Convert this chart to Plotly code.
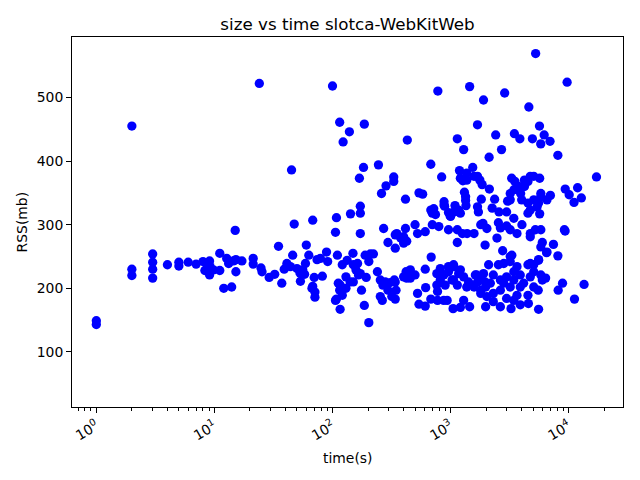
import plotly.graph_objects as go

# time (s), RSS (mb)
time_s = [
    1, 1, 2, 2, 2, 3, 3, 3, 3, 4, 5, 5, 6, 7, 8, 8.3, 8.8, 9.1, 9.2, 9.1, 9.8, 11.1, 11.1, 12, 14,
    12.7, 13.2, 14.5, 15.2, 15.2, 17.1, 15, 21.3, 21.3, 24.8, 25.3, 29.1, 32.4, 34.9, 37.2, 39, 41.1,
    44, 46, 47.4, 50, 53, 53.5, 56, 59, 60, 63, 58, 68, 68, 71, 71, 70, 74, 82, 89, 91, 24, 45, 100,
    5250, 9700, 780, 1450, 1900, 2870, 4600, 115, 139, 186, 123, 430, 1690, 1140, 1290, 2410, 2120,
    2700, 3470, 3860, 4930, 5660, 5800, 6200, 6950, 8100, 17200, 108, 142, 172, 172, 169, 183, 245,
    260, 284, 330, 330, 415, 540, 580, 680, 840, 680, 720, 880, 880, 960, 990, 1090, 1070, 1190, 1270,
    1210, 1310, 1340, 1350, 1540, 1580, 1690, 1770, 1850, 2130, 1820, 1690, 1720, 2360, 2250, 2570,
    2980, 3040, 3200, 3290, 3500, 3440, 3770, 3920, 4000, 4220, 4520, 4730, 5060, 5680, 4520, 4730,
    5060, 5400, 5680, 5810, 6550, 7000, 5810, 9350, 10100, 11100, 11900, 12800, 9200, 106, 172, 110,
    67, 121, 133, 149, 150, 158, 166, 130, 141, 189, 209, 222, 203, 193, 176, 112, 115, 108, 121, 130,
    116, 186, 203, 271, 295, 340, 350, 378, 415, 400, 340, 500, 525, 610, 700, 795, 240, 254, 280, 308,
    334, 345, 318, 254, 264, 340, 295, 420, 456, 500, 610, 685, 425, 525, 615, 775, 540, 610, 680, 775,
    875, 935, 1050, 1210, 1450, 1290, 765, 818, 875, 960, 1060, 1060, 1170, 1290, 1420, 1580, 1800,
    1620, 1690, 1900, 1140, 1260, 1380, 1580, 1800, 1880, 2030, 1960, 2470, 2760, 2540, 2980, 3200,
    3650, 4020, 3430, 4730, 5220, 5810, 5980, 5810, 6550, 7430, 8100, 9330, 5560, 5060, 4730, 1660,
    1800, 1960, 2100, 2300, 2540, 2640, 2980, 3430, 3890, 4520, 4730, 5060, 5810, 6380, 1980, 1980,
    2300, 2640, 3250, 3890, 4560, 5560, 5520, 2640, 3200, 2300, 2980, 3650, 4520, 5060, 2030, 3430,
    8150, 8870, 11200, 13500, 3430, 3890, 1800, 2820, 3200, 3300, 3650, 4150, 2820, 2170, 5560, 5980,
    890, 1340, 1210, 1370, 400, 700, 745, 1000, 1170, 960, 1140, 1370, 3200, 4220, 5560, 4520, 2640,
    4730, 425, 79, 163, 172, 150, 116, 106, 267, 340, 400, 456, 818, 960, 1060, 1210, 1030, 900, 765,
    1140, 1370, 6500, 3200,
]
rss_mb = [
    149, 143, 455, 230, 220, 254, 241, 230, 216, 237, 241, 235, 241, 238, 242, 228, 238, 243, 234, 221,
    229, 228, 255, 200, 202, 247, 239, 243, 245, 226, 243, 291, 247, 238, 232, 226, 217, 222, 266, 208,
    230, 239, 234, 252, 301, 231, 224, 211, 229, 239, 268, 252, 222, 307, 203, 194, 186, 217, 245, 219,
    257, 242, 522, 386, 518, 569, 524, 510, 517, 496, 507, 485, 461, 446, 458, 430, 433, 457, 435, 418,
    441, 406, 418, 443, 435, 435, 455, 427, 441, 431, 409, 375, 311, 317, 329, 318, 373, 390, 394, 349,
    361, 375, 368, 340, 350, 348, 395, 375, 323, 325, 336, 331, 319, 314, 330, 320, 385, 369, 318, 351,
    338, 330, 390, 376, 376, 370, 363, 356, 340, 328, 320, 340, 326, 320, 320, 337, 349, 373, 368, 355,
    360, 349, 339, 360, 368, 376, 376, 373, 334, 323, 339, 328, 317, 344, 339, 346, 349, 356, 347, 335,
    358, 342, 292, 288, 286, 252, 200, 237, 244, 255, 237, 229, 221, 218, 210, 252, 254, 254, 242, 217,
    197, 208, 197, 183, 189, 200, 167, 173, 146, 294, 272, 284, 286, 279, 294, 271, 263, 300, 286, 289,
    300, 297, 226, 213, 210, 209, 213, 197, 187, 187, 181, 183, 197, 226, 229, 221, 230, 249, 216, 192,
    201, 195, 175, 172, 183, 181, 181, 181, 168, 170, 171, 181, 223, 213, 221, 226, 234, 213, 223, 218,
    210, 202, 197, 221, 210, 223, 272, 286, 286, 286, 300, 302, 294, 268, 279, 259, 303, 298, 292, 286,
    300, 310, 286, 292, 292, 272, 265, 257, 269, 251, 290, 245, 237, 239, 221, 216, 210, 237, 221, 237,
    213, 218, 226, 221, 237, 218, 226, 221, 216, 202, 171, 179, 171, 168, 174, 176, 167, 197, 197, 202,
    192, 184, 189, 189, 202, 187, 181, 197, 208, 183, 206, 213, 202, 192, 239, 250, 252, 234, 208, 208,
    208, 244, 213, 329, 344, 373, 381, 281, 318, 316, 313, 323, 292, 292, 370, 339, 370, 334, 318, 295,
    281, 274, 247, 239, 223, 210, 205, 181, 205, 210, 218, 216, 231, 234, 237, 229, 213, 205, 205, 205,
    202, 256, 242,
]

x_tick_vals = [1, 10, 100, 1000, 10000]
x_tick_text = ["10<sup>0</sup>", "10<sup>1</sup>", "10<sup>2</sup>", "10<sup>3</sup>", "10<sup>4</sup>"]
y_tick_vals = [100, 200, 300, 400, 500]

minor_vals = [m * 10 ** e for e in range(-1, 5) for m in range(2, 10)]

fig = go.Figure()
fig.add_trace(go.Scatter(
    x=time_s, y=rss_mb, mode="markers",
    marker=dict(color="#0000ff", size=9.3, line=dict(width=0)),
    showlegend=False, hoverinfo="skip",
))

font = "DejaVu Sans"
# page body has an 8px default margin, so the figure is drawn 8px smaller and offset
W, H = 632, 472
fig.update_layout(
    width=W, height=H,
    margin=dict(l=63.7, r=17.3, t=29.3, b=73.3, autoexpand=False),
    paper_bgcolor="white", plot_bgcolor="white",
    font=dict(family=font, size=13.9, color="black"),
    title=dict(text="size vs time slotca-WebKitWeb", x=0.5, xref="paper", xanchor="center",
               y=1 - 16 / H, yref="container", yanchor="middle",
               font=dict(family=font, size=16.7, color="black")),
)
fig.update_xaxes(
    type="log", range=[-0.206, 4.46],
    tickmode="array", tickvals=x_tick_vals, ticktext=x_tick_text, tickangle=-30,
    ticks="outside", ticklen=4.9, tickwidth=1.1, tickcolor="black",
    minor=dict(tickmode="array", tickvals=minor_vals, ticks="outside", ticklen=2.8,
               tickwidth=0.8, tickcolor="black", showgrid=False),
    showgrid=False, zeroline=False,
    showline=True, linecolor="black", linewidth=1.1, mirror=True,
    tickfont=dict(family=font, size=13.9, color="black"),
)
fig.update_yaxes(
    range=[13.4, 595],
    tickmode="array", tickvals=y_tick_vals,
    ticks="outside", ticklen=4.9, tickwidth=1.1, tickcolor="black",
    showgrid=False, zeroline=False,
    showline=True, linecolor="black", linewidth=1.1, mirror=True,
    tickfont=dict(family=font, size=13.9, color="black"),
)
fig.add_annotation(text="time(s)", x=0.5, y=-0.139, xref="paper", yref="paper",
                   showarrow=False, xanchor="center", yanchor="middle",
                   font=dict(family=font, size=13.9, color="black"))
fig.add_annotation(text="RSS(mb)", x=-0.090, y=0.5, xref="paper", yref="paper",
                   showarrow=False, xanchor="center", yanchor="middle", textangle=-90,
                   font=dict(family=font, size=13.9, color="black"))

fig.write_html("out.html")
